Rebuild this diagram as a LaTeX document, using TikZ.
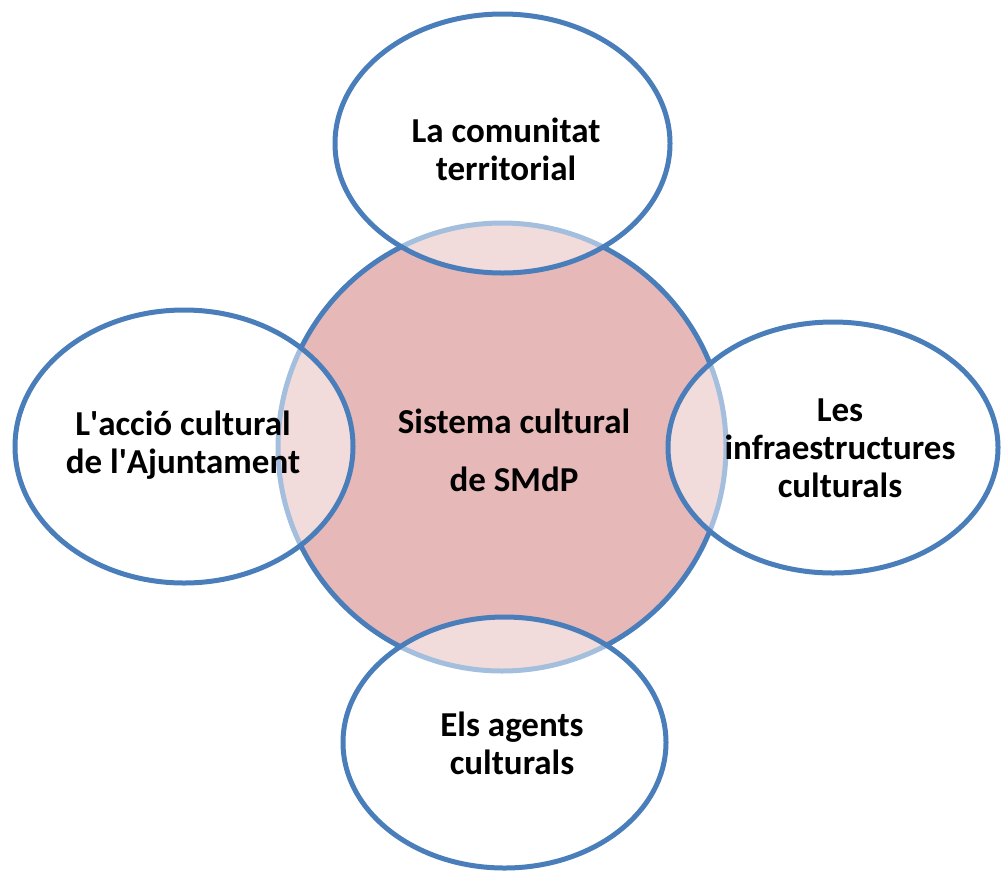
\documentclass[tikz,border=0pt]{standalone}
\usepackage{fontspec}
\setmainfont{Carlito}
\usetikzlibrary{shapes.geometric}
\definecolor{rim}{HTML}{4A7EBB}
\definecolor{rose}{HTML}{E6B9B8}
\newcommand{\ap}{\textquotesingle}
\tikzset{
  core/.style={circle, draw=rim, line width=5pt, fill=rose, minimum size=448pt,
    inner sep=0pt},
  part/.style={ellipse, draw=rim, line width=5pt, fill=white, fill opacity=0.5,
    draw opacity=1, inner sep=0pt},
  txt/.style={align=center, inner sep=0pt, font=\fontsize{35}{38}\selectfont\bfseries}
}
\begin{document}
\begin{tikzpicture}[x=1pt,y=-1pt]
  \useasboundingbox (0,0) rectangle (1003,879);
  \node[core] (sys) at (502,447) {};
  \node[part, minimum width=335pt, minimum height=259pt] (com) at (502.5,143.5) {};
  \node[part, minimum width=338pt, minimum height=273pt] (acc) at (184,446.5) {};
  \node[part, minimum width=330pt, minimum height=251pt] (inf) at (833,447.5) {};
  \node[part, minimum width=323pt, minimum height=251pt] (age) at (504.5,742.5) {};
  % texts
  \node[txt, font=\fontsize{35}{58}\selectfont\bfseries] (sysT) at (514,450) {Sistema cultural\\de SMdP};
  \node[txt] (comT) at (506,149) {La comunitat\\territorial};
  \node[txt] (accT) at (183,445) {L\ap acció cultural\\de l\ap Ajuntament};
  \node[txt] (infT) at (840,448) {Les\\infraestructures\\culturals};
  \node[txt] (ageT) at (512,743) {Els agents\\culturals};
\end{tikzpicture}
\end{document}
